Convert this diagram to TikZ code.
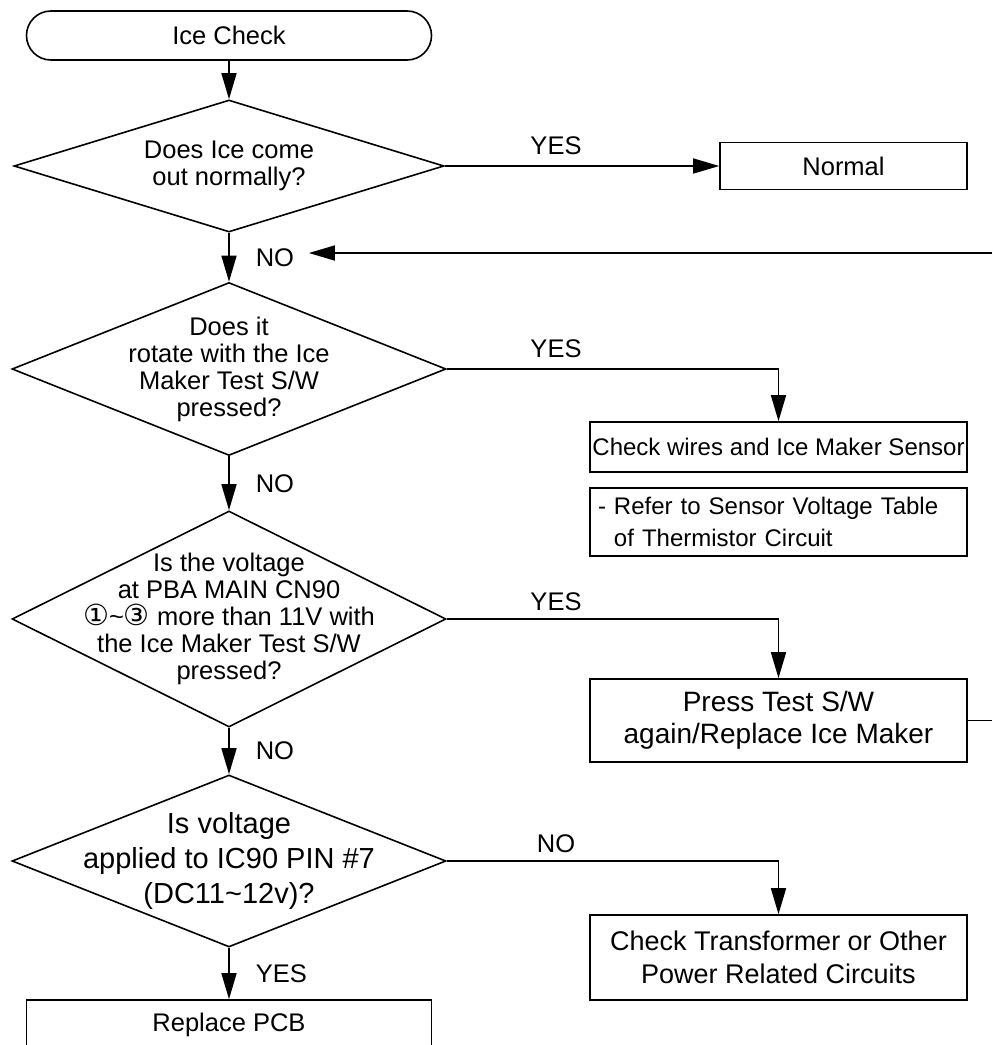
\documentclass[tikz,border=0pt]{standalone}
\usepackage{fontspec}
\setmainfont{Liberation Sans}
\newfontfamily\circfont{DejaVu Sans}
\usetikzlibrary{shapes.geometric,arrows.meta,positioning}

\begin{document}
\begin{tikzpicture}[
    x=0.5pt, y=-0.5pt,
    line width=0.8pt,
    txt/.style={font=\fontsize{12.75}{13.5}\selectfont},
    startbox/.style={rectangle, draw, rounded corners=12.2pt, minimum width=202.5pt, minimum height=24.5pt, txt},
    decision/.style={diamond, draw, inner sep=0pt},
    qtext/.style={align=center, txt, inner sep=0pt},
    procbox/.style={rectangle, draw, align=center, inner sep=2pt, minimum width=188.5pt, txt},
    lbl/.style={txt, inner sep=3pt},
    arrow/.style={-{Triangle[length=13pt, width=7.5pt]}}
]
    \useasboundingbox (0,0) rectangle (992,1045);

    % left column
    \node [startbox] (start) at (229,35.5) {Ice Check};
    \node [decision, minimum width=215pt, minimum height=66pt] (d1) at (229,166) {};
    \node [qtext] (q1) at (d1) {Does Ice come\\out normally?};
    \node [decision, minimum width=217pt, minimum height=86.5pt] (d2) at (229,369) {};
    \node [qtext] (q2) at (d2) {Does it\\rotate with the Ice\\Maker Test S/W\\pressed?};
    \node [decision, minimum width=217pt, minimum height=108pt] (d3) at (229,619) {};
    \node [qtext] (q3) at (d3) {Is the voltage\\at PBA MAIN CN90\\{\circfont\fontsize{14.5}{13.5}\selectfont ①}\textasciitilde{\circfont\fontsize{14.5}{13.5}\selectfont ③} more than 11V with\\the Ice Maker Test S/W\\pressed?};
    \node [decision, minimum width=217pt, minimum height=86pt] (d4) at (229,861) {};
    \node [qtext, font=\fontsize{14.5}{17.5}\selectfont] (q4) at (d4) {Is voltage\\applied to IC90 PIN \#7\\(DC11\textasciitilde12v)?};
    \node [procbox, minimum width=202.5pt, minimum height=25pt] (pcb) at (229,1025) {Replace PCB};

    % right column
    \node [procbox, minimum width=123.5pt, minimum height=23.5pt] (normal) at (843.5,166) {Normal};
    \node [procbox, minimum height=25pt, inner sep=1pt, font=\fontsize{12}{14}\selectfont] (wires) at (778.5,447) {Check wires and Ice Maker Sensor};
    \node [procbox, minimum height=34pt, align=left, inner sep=4pt, text width=180.5pt, font=\fontsize{12}{16}\selectfont] (refer) at (778.5,522) {- Refer to Sensor Voltage Table\\\hphantom{- }of Thermistor Circuit};
    \node [procbox, minimum height=41.5pt, font=\fontsize{14}{16}\selectfont] (press) at (778.5,720.5) {Press Test S/W\\again/Replace Ice Maker};
    \node [procbox, minimum height=42.5pt, font=\fontsize{13.5}{16.5}\selectfont] (trans) at (778.5,957.5) {Check Transformer or Other\\Power Related Circuits};

    \coordinate (rtop) at (992,253);
    \coordinate (rbot) at (992,720.5);

    % connectors
    \draw [arrow] (start) -- (d1);
    \draw [arrow] (d1.south) -- node [lbl, right=10pt] (no1) {NO} (d2.north);
    \draw [arrow] (d2.south) -- node [lbl, right=10pt] (no2) {NO} (d3.north);
    \draw [arrow] (d3.south) -- node [lbl, right=10pt] (no3) {NO} (d4.north);
    \draw [arrow] (d4.south) -- node [lbl, right=10pt] (yes4) {YES} (pcb.north);

    \draw [arrow] (d1.east) -- (normal.west);
    \draw [arrow] (d2.east) -| (wires.north);
    \draw [arrow] (d3.east) -| (press.north);
    \draw [arrow] (d4.east) -| (trans.north);
    \node [lbl, anchor=base] (yes1) at (556,154) {YES};
    \node [lbl, anchor=base] (yes2) at (556,357) {YES};
    \node [lbl, anchor=base] (yes3) at (556,610) {YES};
    \node [lbl, anchor=base] (no4) at (556,852) {NO};

    % loop back
    \draw (press.east) -- (rbot);
    \draw [arrow, shorten >=4pt] (rtop) -- (rtop -| no1.east);
\end{tikzpicture}
\end{document}
